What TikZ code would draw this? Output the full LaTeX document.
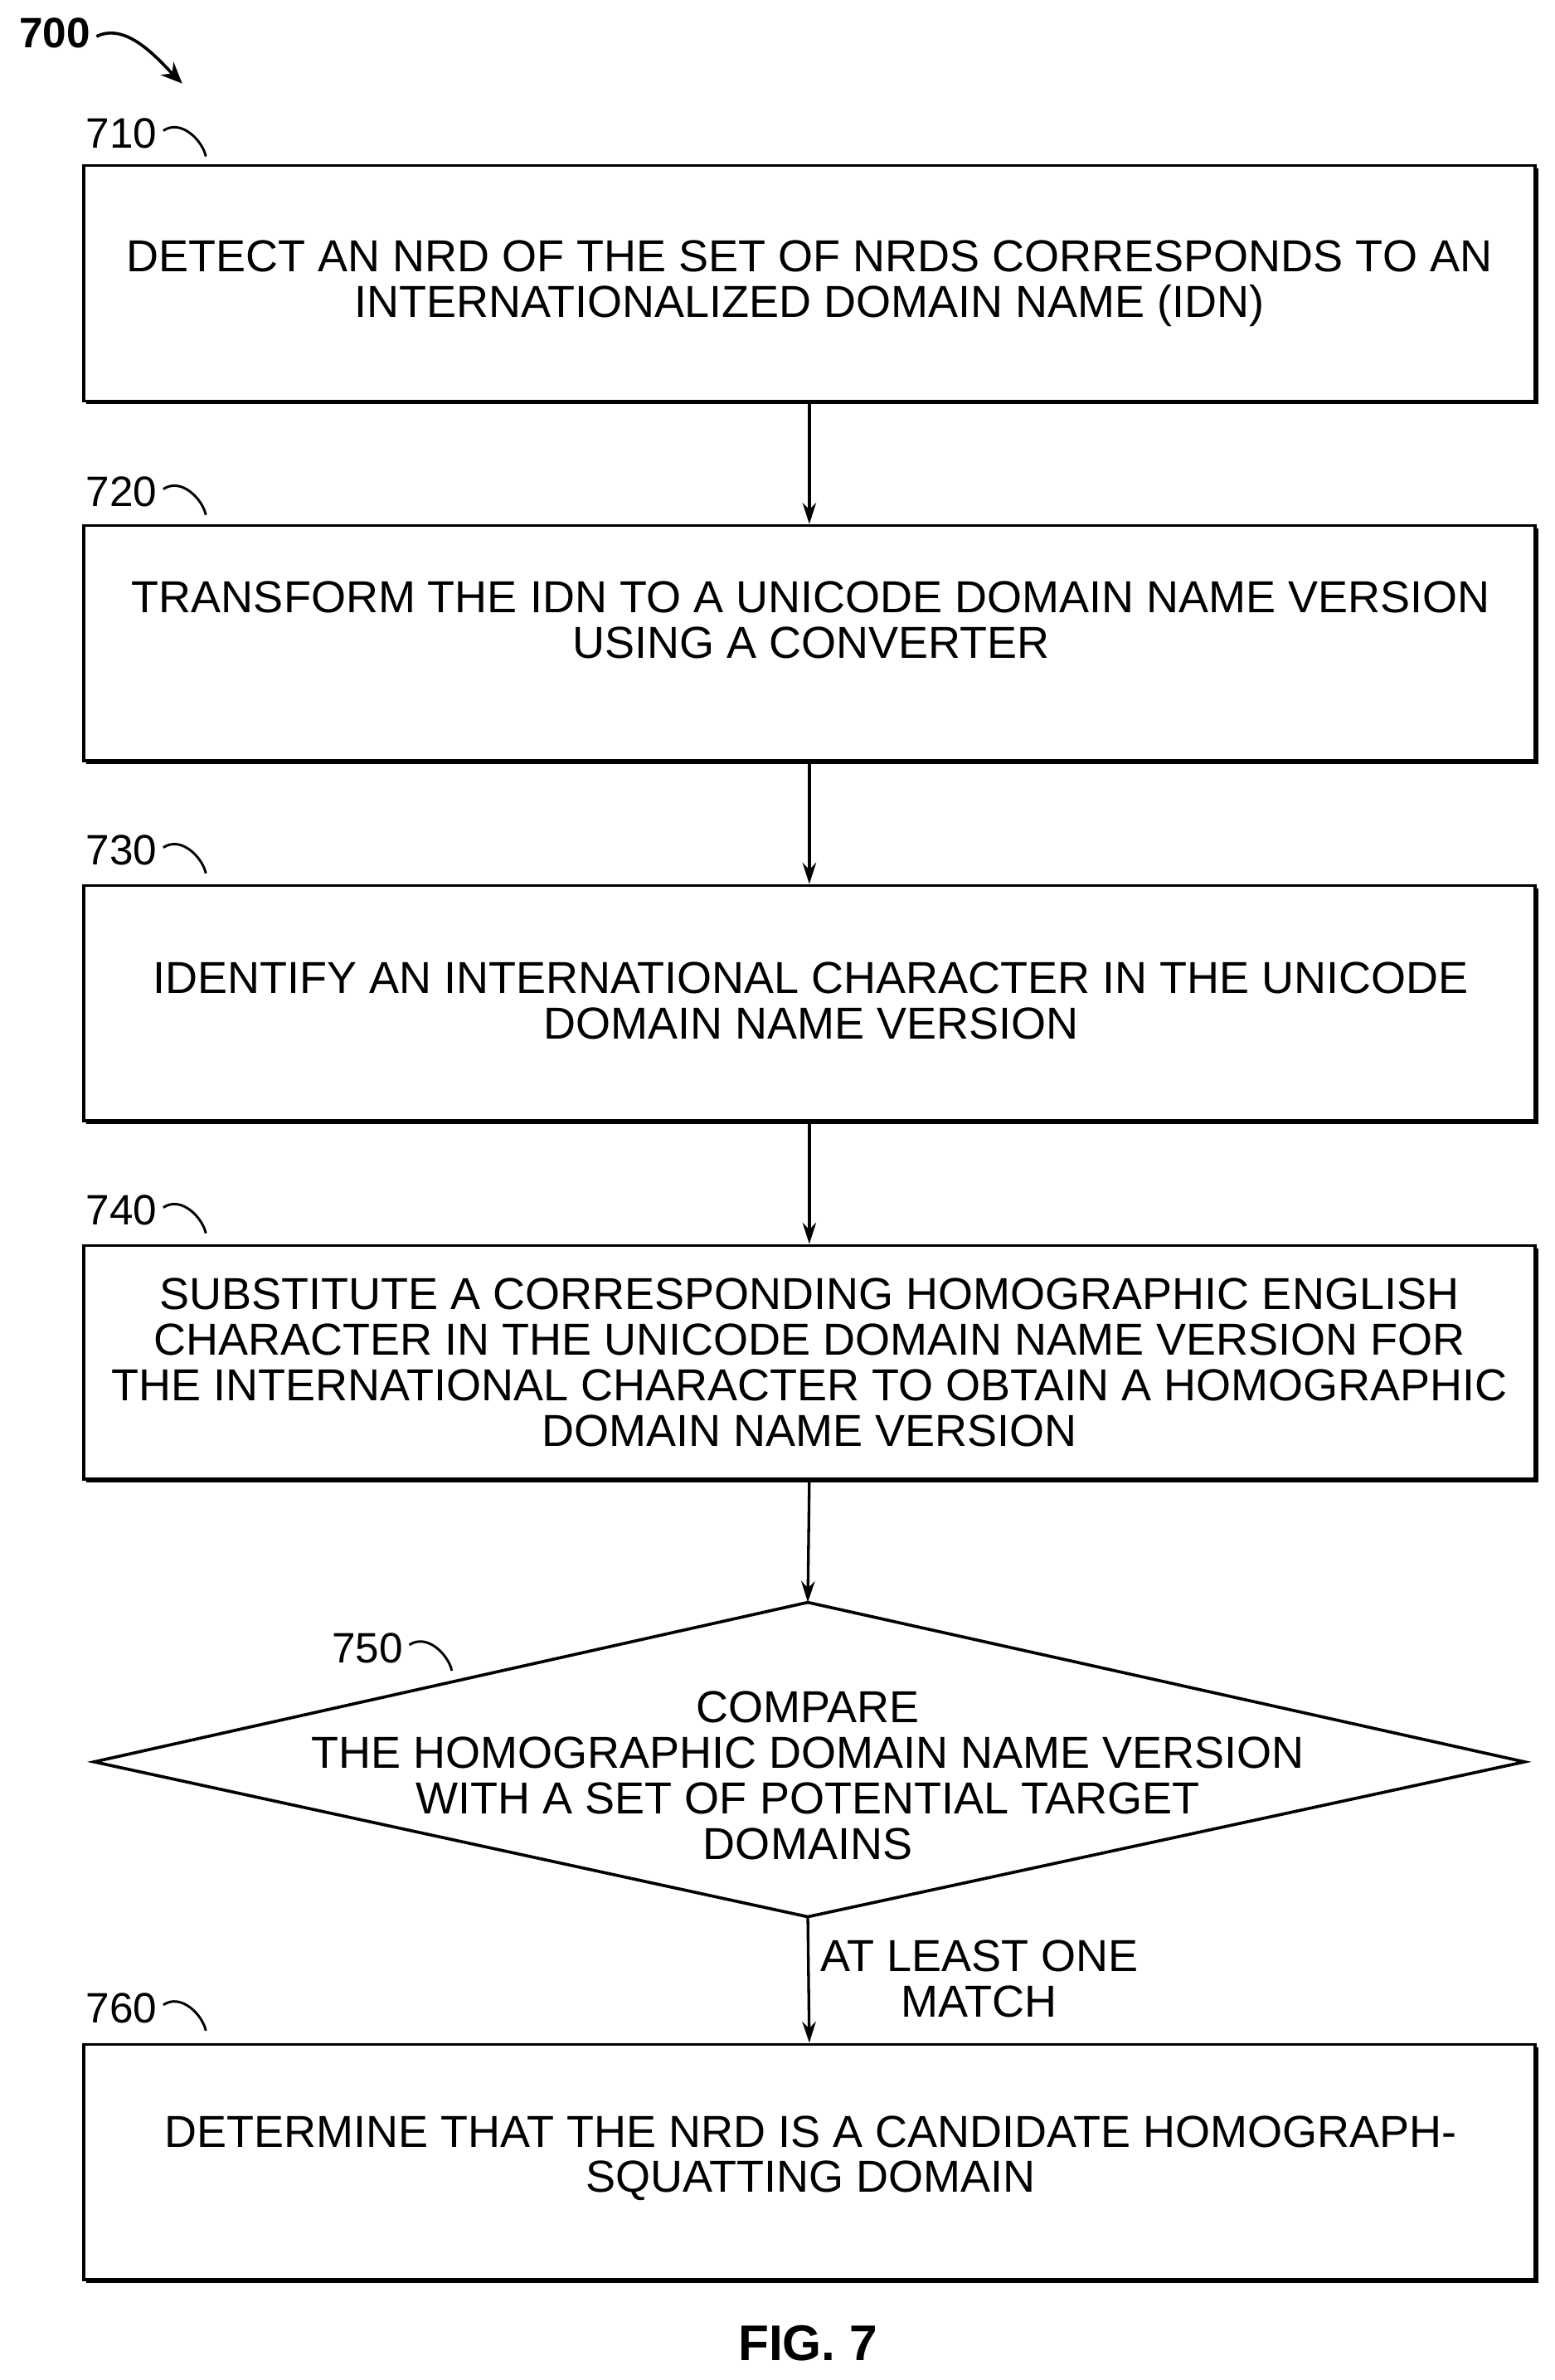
\documentclass[tikz,border=0pt]{standalone}
\usepackage{fontspec}
\setmainfont{Liberation Sans}
\usetikzlibrary{arrows.meta,shapes.geometric}
\begin{document}
\begin{tikzpicture}[x=1pt,y=-1pt,
 box/.style={draw,line width=2pt,fill=white},
 txt/.style={align=center,font=\fontsize{29.5}{30}\selectfont,inner sep=0},
 lbl/.style={font=\fontsize{28}{30}\selectfont,inner sep=0},
 arr/.style={line width=1.8pt,-{Stealth[length=14pt,width=9pt]}},
 sq/.style={line width=1.6pt}]
\useasboundingbox (0,0) rectangle (1024,1567);
% shadows
\foreach \a/\b in {108/263,345/500,582/737,819/973,1345/1500}{
 \fill (57,\a+3) rectangle (1013,\b+3);}
\node[box,minimum width=956pt,minimum height=155pt,anchor=north west] (b1) at (54,108) {};
\node[box,minimum width=956pt,minimum height=155pt,anchor=north west] (b2) at (54,345) {};
\node[box,minimum width=956pt,minimum height=155pt,anchor=north west] (b3) at (54,582) {};
\node[box,minimum width=956pt,minimum height=154pt,anchor=north west] (b4) at (54,819) {};
\node[box,minimum width=956pt,minimum height=155pt,anchor=north west] (b6) at (54,1345) {};
\coordinate (dt) at (532,1055); \coordinate (db) at (532,1262);
\draw[line width=2pt,fill=white] (dt) -- (1004,1160) -- (db) -- (62,1160) -- cycle;
\node[txt] at (b1.center) {DETECT AN NRD OF THE SET OF NRDS CORRESPONDS TO AN\\INTERNATIONALIZED DOMAIN NAME (IDN)};
\node[txt] at (534,408) {TRANSFORM THE IDN TO A UNICODE DOMAIN NAME VERSION\\USING A CONVERTER};
\node[txt] at (534,659) {IDENTIFY AN INTERNATIONAL CHARACTER IN THE UNICODE\\DOMAIN NAME VERSION};
\node[txt] at (b4.center) {SUBSTITUTE A CORRESPONDING HOMOGRAPHIC ENGLISH\\CHARACTER IN THE UNICODE DOMAIN NAME VERSION FOR\\THE INTERNATIONAL CHARACTER TO OBTAIN A HOMOGRAPHIC\\DOMAIN NAME VERSION};
\node[txt] (d) at (532,1169) {COMPARE\\THE HOMOGRAPHIC DOMAIN NAME VERSION\\WITH A SET OF POTENTIAL TARGET\\DOMAINS};
\node[txt] at (534,1421) {DETERMINE THAT THE NRD IS A CANDIDATE HOMOGRAPH-\\SQUATTING DOMAIN};
\draw[arr] (b1.south) -- (b2.north);
\draw[arr] (b2.south) -- (b3.north);
\draw[arr] (b3.south) -- (b4.north);
\draw[arr] (b4.south) -- (dt);
\draw[arr] (db) -- (b6.north);
\node[txt] at (645,1303) {AT LEAST ONE\\MATCH};
% labels
\foreach \n/\y in {710/88,720/324,730/560,740/797,760/1322}{
 \node[lbl] (l\n) at (80,\y) {\n};
 \draw[sq] (l\n.east) ++(4,-2) .. controls +(12,-8) and +(-2,-10) .. +(28,17);}
\node[lbl] (l750) at (242,1085) {750};
\draw[sq] (l750.east) ++(4,-2) .. controls +(12,-8) and +(-2,-10) .. +(28,17);
\node[lbl,font=\bfseries\fontsize{28}{30}\selectfont] (l700) at (36,22) {700};
\coordinate (a700) at (120,55);
\draw[line width=2pt,-{Stealth[length=14pt,width=12pt]}] (l700.east) ++(4,2) .. controls +(20,-10) and +(-15,-15) .. (a700);
\node[lbl,font=\bfseries\fontsize{33}{36}\selectfont] (fig) at (532,1543) {FIG. 7};
\end{tikzpicture}
\end{document}
